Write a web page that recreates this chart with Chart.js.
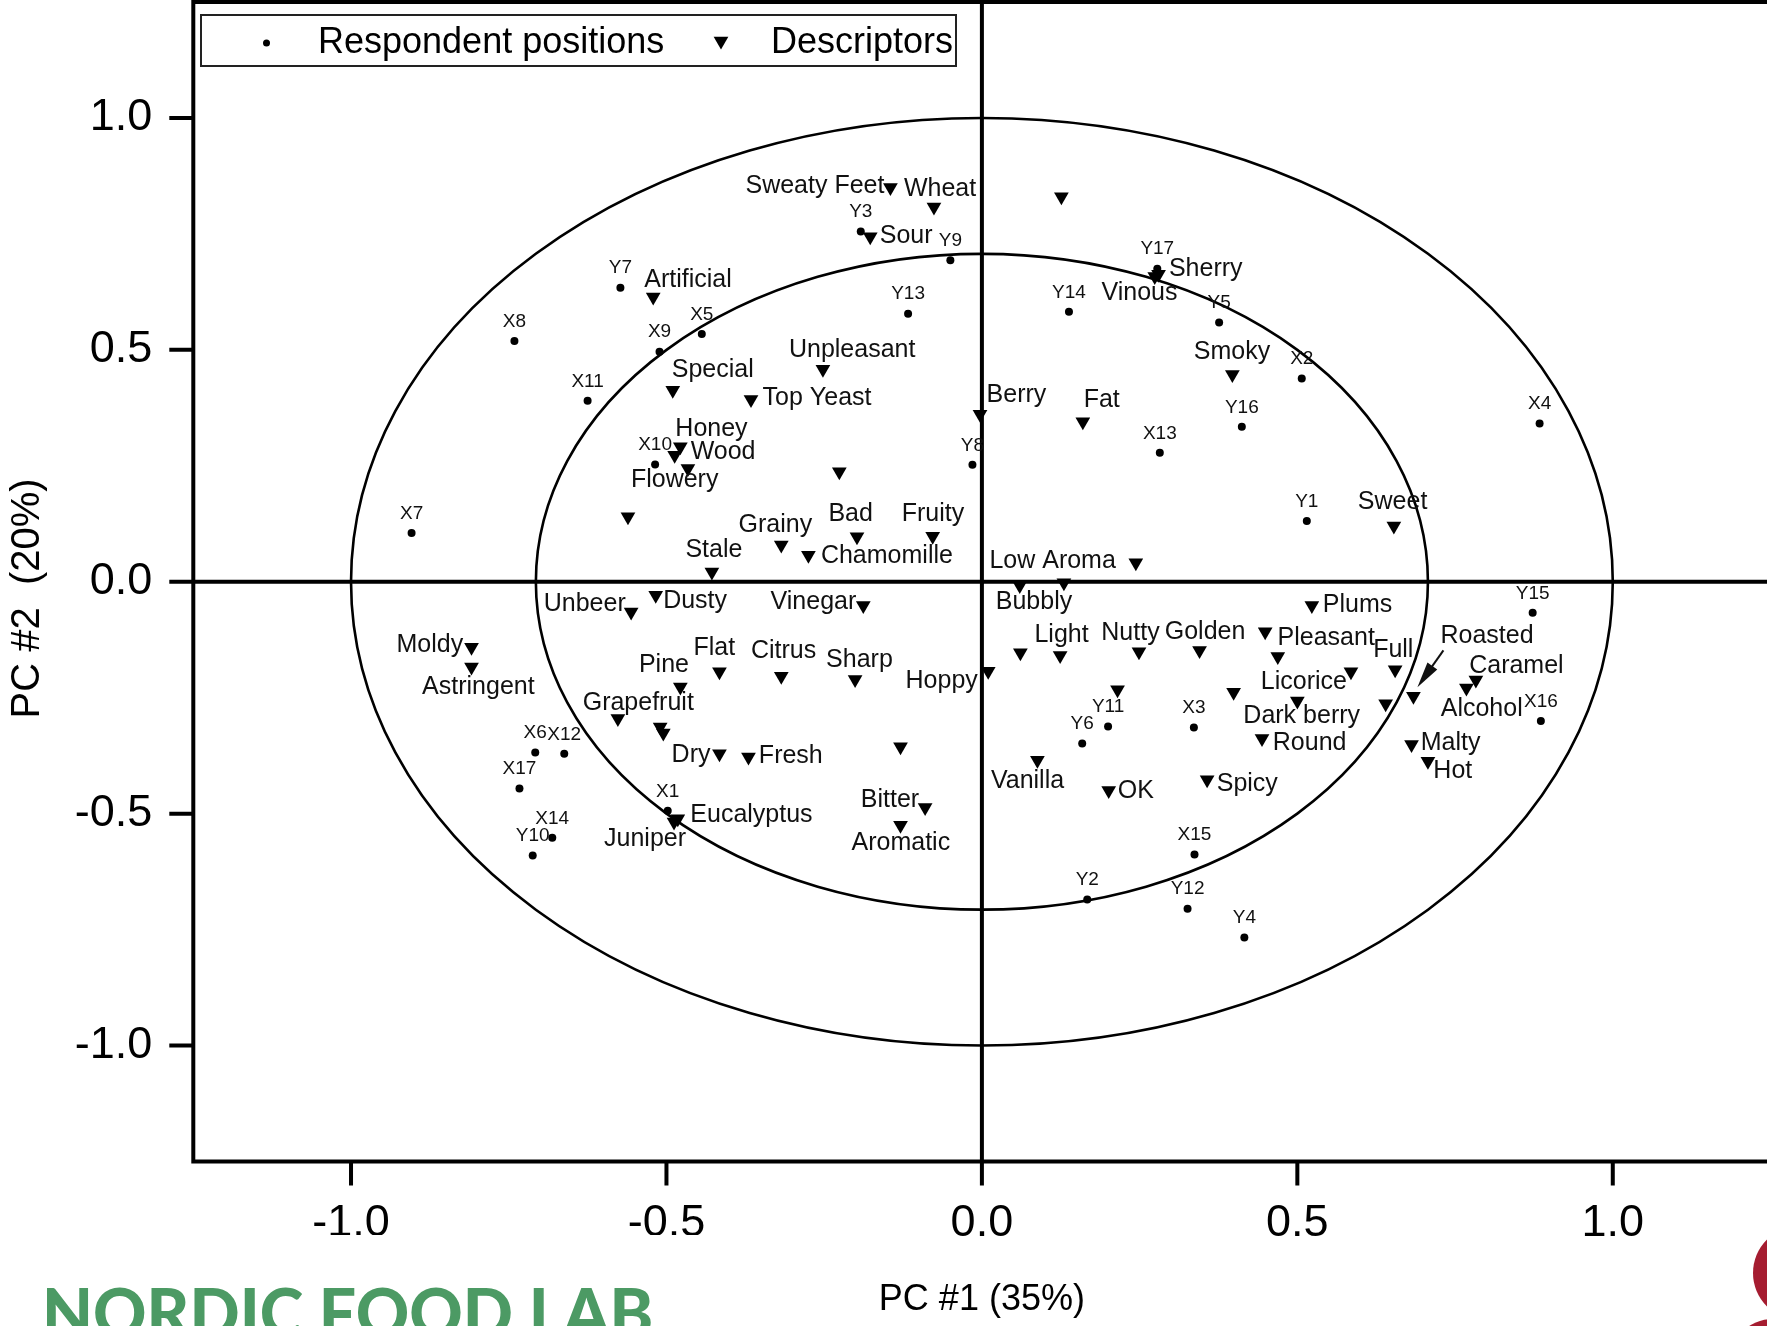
<!DOCTYPE html>
<html lang="en">
<head>
<meta charset="UTF-8" />
<title>PCA biplot</title>
<script src="https://cdn.jsdelivr.net/npm/chart.js@4"></script>
<style>
	html, body { margin: 0; padding: 0; background: #fff; overflow: hidden; width: 1767px; height: 1326px; }
	#wrap { position: absolute; left: 0; top: 0; width: 1772px; height: 1326px; }
	#brand { position: absolute; left: 0; top: 1235px; width: 700px; height: 91px; background: #fff; overflow: hidden; }
	#brand span { position: absolute; left: 42px; top: 44px; font: 900 66px Lato, sans-serif; color: #4c9a64; line-height: 1; white-space: nowrap; }
	.seal { position: absolute; border-radius: 50%; background: #a51c30; }
</style>
</head>
<body>
<div id="wrap"><canvas id="chart" width="1772" height="1326"></canvas></div>
<div id="brand"><span>NORDIC FOOD LAB</span></div>
<div class="seal" style="left:1753px;top:1226px;width:94px;height:94px"></div>
<div class="seal" style="left:1728px;top:1319px;width:90px;height:90px"></div>
<script>
	const respondentNames = ['X1', 'X2', 'X3', 'X4', 'X5', 'X6', 'X7', 'X8', 'X9', 'X10', 'X11', 'X12', 'X13', 'X14', 'X15', 'X16', 'X17',
		'Y1', 'Y2', 'Y3', 'Y4', 'Y5', 'Y6', 'Y7', 'Y8', 'Y9', 'Y10', 'Y11', 'Y12', 'Y13', 'Y14', 'Y15', 'Y16', 'Y17'];
	const respondentX = [-0.498, 0.507, 0.336, 0.884, -0.444, -0.708, -0.904, -0.741, -0.511, -0.518, -0.625, -0.662, 0.282, -0.681, 0.337, 0.886, -0.733,
		0.515, 0.167, -0.192, 0.416, 0.376, 0.159, -0.573, -0.015, -0.050, -0.712, 0.200, 0.326, -0.117, 0.138, 0.873, 0.412, 0.278];
	const respondentY = [-0.494, 0.438, -0.314, 0.341, 0.534, -0.368, 0.105, 0.519, 0.496, 0.253, 0.390, -0.371, 0.278, -0.552, -0.588, -0.300, -0.446,
		0.131, -0.685, 0.755, -0.767, 0.559, -0.349, 0.634, 0.252, 0.693, -0.590, -0.312, -0.705, 0.578, 0.582, -0.067, 0.334, 0.675];

	const descriptorNames = ['Sweaty Feet', 'Wheat', 'Sour', 'Artificial', 'Unpleasant', 'Special', 'Top Yeast', 'Honey', 'Wood', 'Flowery',
		'', '', 'Grainy', 'Bad', 'Fruity', 'Chamomille', 'Stale', 'Berry', '', 'Sherry', 'Vinous', 'Smoky', 'Fat', 'Sweet', 'Low Aroma',
		'Bubbly', '', 'Plums', '', 'Light', 'Nutty', 'Golden', 'Pleasant', '', 'Licorice', 'Full', 'Hoppy', '', '', 'Dark berry', '',
		'Roasted', 'Caramel', 'Alcohol', 'Round', 'Malty', 'Hot', 'Vanilla', 'OK', 'Spicy', 'Unbeer', 'Dusty', 'Vinegar', 'Moldy',
		'Astringent', 'Flat', 'Citrus', 'Sharp', 'Pine', 'Grapefruit', '', '', 'Dry', 'Fresh', '', 'Eucalyptus', 'Juniper', 'Bitter', 'Aromatic'];
	const descriptorX = [-0.145, -0.076, -0.177, -0.521, -0.252, -0.490, -0.366, -0.478, -0.487, -0.466,
		-0.226, -0.561, -0.318, -0.198, -0.078, -0.275, -0.428, -0.003, 0.126, 0.280, 0.274, 0.397, 0.160, 0.653, 0.244,
		0.060, 0.130, 0.523, 0.061, 0.124, 0.249, 0.345, 0.449, 0.469, 0.585, 0.655, 0.010, 0.215, 0.399, 0.500, 0.640,
		0.684, 0.783, 0.768, 0.444, 0.681, 0.707, 0.088, 0.201, 0.357, -0.556, -0.517, -0.188, -0.809,
		-0.809, -0.416, -0.318, -0.201, -0.478, -0.577, -0.510, -0.505, -0.416, -0.370, -0.129, -0.482, -0.488, -0.090, -0.129];
	const descriptorY = [0.850, 0.808, 0.744, 0.614, 0.458, 0.413, 0.393, 0.291, 0.273, 0.244,
		0.237, 0.140, 0.079, 0.097, 0.098, 0.057, 0.021, 0.361, 0.830, 0.663, 0.658, 0.447, 0.345, 0.120, 0.041,
		-0.008, -0.002, -0.051, -0.153, -0.159, -0.151, -0.148, -0.108, -0.161, -0.194, -0.190, -0.193, -0.233, -0.238, -0.257, -0.263,
		-0.247, -0.212, -0.229, -0.338, -0.351, -0.387, -0.385, -0.450, -0.427, -0.065, -0.029, -0.051, -0.141,
		-0.184, -0.194, -0.204, -0.211, -0.227, -0.295, -0.313, -0.326, -0.371, -0.378, -0.356, -0.511, -0.518, -0.487, -0.525];

	const tickValues = [-1, -0.5, 0, 0.5, 1];
	const tickLabels = ['-1.0', '-0.5', '0.0', '0.5', '1.0'];
	const circleRadii = [1.0, 0.707];

	// where each descriptor name sits next to its marker: [dx px, dy px, align]
	const descriptorLabelAt = {
		'Sweaty Feet': [-6, -1.5, 'right'], 'Wheat': [-30, -18, 'left'], 'Sour': [9.5, -1, 'left'],
		'Artificial': [-9, -17, 'left'], 'Unpleasant': [-34, -19, 'left'], 'Special': [-1, -20, 'left'],
		'Top Yeast': [11.6, -1, 'left'], 'Honey': [-5, -18, 'left'], 'Wood': [16, -3, 'left'], 'Flowery': [-57, 12, 'left'],
		'Grainy': [-42.7, -20, 'left'], 'Bad': [-28.6, -22.7, 'left'], 'Fruity': [-31, -22, 'left'],
		'Chamomille': [12.5, 1, 'left'], 'Stale': [-26.5, -21.7, 'left'], 'Berry': [6.6, -19, 'left'],
		'Sherry': [10.4, -5, 'left'], 'Vinous': [-53.3, 16.3, 'left'], 'Smoky': [-38.5, -22.3, 'left'],
		'Fat': [0.8, -21.7, 'left'], 'Sweet': [-36, -24, 'left'], 'Low Aroma': [-20, -1.3, 'right'],
		'Bubbly': [-24, 16.7, 'left'], 'Plums': [11, 0, 'left'], 'Light': [-25.7, -20.7, 'left'],
		'Nutty': [-37.7, -19, 'left'], 'Golden': [-34.8, -18.3, 'left'], 'Pleasant': [12.4, 6.6, 'left'],
		'Licorice': [-4, 10, 'right'], 'Full': [-22, -19.3, 'left'], 'Hoppy': [-10.4, 10, 'right'],
		'Dark berry': [-54, 15, 'left'], 'Roasted': [27, -60, 'left'], 'Caramel': [-6.7, -14.3, 'left'],
		'Alcohol': [-25.7, 21, 'left'], 'Round': [10.8, 4.4, 'left'], 'Malty': [9.2, -1.6, 'left'],
		'Hot': [5.4, 10, 'left'], 'Vanilla': [-46.5, 21, 'left'], 'OK': [9, 1, 'left'], 'Spicy': [9.6, 4, 'left'],
		'Unbeer': [-5.4, -7.4, 'right'], 'Dusty': [7.4, 6, 'left'], 'Vinegar': [-7, -3.3, 'right'],
		'Moldy': [-8.3, -1.7, 'right'], 'Astringent': [-49.4, 20, 'left'], 'Flat': [-26, -24, 'left'],
		'Citrus': [-30.3, -25, 'left'], 'Sharp': [-29, -20, 'left'], 'Pine': [-41.4, -21.7, 'left'],
		'Grapefruit': [-35.2, -15.6, 'left'], 'Dry': [-9, 1.7, 'right'], 'Fresh': [10.4, -0.7, 'left'],
		'Eucalyptus': [12.5, -4, 'left'], 'Juniper': [-70, 17.6, 'left'], 'Bitter': [-6, -8, 'right'],
		'Aromatic': [-49, 17.7, 'left']
	};

	const FONT = "'Liberation Sans', Arial, Helvetica, sans-serif";
	Chart.defaults.font.family = FONT;
	Chart.defaults.color = '#000';

	function tickText(v) {
		const i = tickValues.findIndex(t => Math.abs(t - v) < 1e-6);
		return i >= 0 ? tickLabels[i] : null;
	}

	function downTriangle(ctx, x, y, r) {
		const h = r * Math.sin(Math.PI / 3);
		ctx.beginPath();
		ctx.moveTo(x, y + r);
		ctx.lineTo(x - h, y - r / 2);
		ctx.lineTo(x + h, y - r / 2);
		ctx.closePath();
		ctx.fill();
	}

	// circles, zero axes, frame and tick marks
	const frameLines = {
		id: 'frameLines',
		beforeDatasetsDraw(chart) {
			const { ctx, chartArea: a, scales: { x, y } } = chart;
			const cx = x.getPixelForValue(0);
			const cy = y.getPixelForValue(0);
			ctx.save();
			ctx.strokeStyle = '#000';
			ctx.lineWidth = 2.6;
			circleRadii.forEach(r => {
				ctx.beginPath();
				ctx.ellipse(cx, cy, x.getPixelForValue(r) - cx, cy - y.getPixelForValue(r), 0, 0, Math.PI * 2);
				ctx.stroke();
			});
			ctx.lineWidth = 4;
			ctx.beginPath();
			ctx.moveTo(a.left, cy); ctx.lineTo(a.right, cy);
			ctx.moveTo(cx, a.top); ctx.lineTo(cx, a.bottom);
			ctx.stroke();
			ctx.strokeRect(a.left, a.top, a.right - a.left, a.bottom - a.top);
			ctx.beginPath();
			x.ticks.forEach(t => {
				const px = x.getPixelForValue(t.value);
				ctx.moveTo(px, a.bottom);
				ctx.lineTo(px, a.bottom + (t.label ? 24 : 12));
			});
			y.ticks.forEach(t => {
				const py = y.getPixelForValue(t.value);
				ctx.moveTo(a.left, py);
				ctx.lineTo(a.left - (t.label ? 24 : 12), py);
			});
			ctx.stroke();
			ctx.restore();
		}
	};

	// names next to the markers, the Roasted arrow and the boxed legend
	const annotations = {
		id: 'annotations',
		afterDatasetsDraw(chart) {
			const { ctx } = chart;
			ctx.save();
			ctx.fillStyle = '#111';
			ctx.textBaseline = 'middle';

			ctx.font = `19px ${FONT}`;
			ctx.textAlign = 'center';
			chart.getDatasetMeta(0).data.forEach((pt, i) => {
				ctx.fillText(respondentNames[i], pt.x, pt.y - 19.5);
			});

			ctx.font = `25px ${FONT}`;
			chart.getDatasetMeta(1).data.forEach((pt, i) => {
				const pos = descriptorLabelAt[descriptorNames[i]];
				if (!pos) return;
				ctx.textAlign = pos[2];
				ctx.fillText(descriptorNames[i], pt.x + pos[0], pt.y + pos[1]);
			});

			const roasted = chart.getDatasetMeta(1).data[descriptorNames.indexOf('Roasted')];
			const sx = roasted.x + 30, sy = roasted.y - 46;
			const tx = roasted.x + 4, ty = roasted.y - 9;
			const ang = Math.atan2(ty - sy, tx - sx);
			ctx.strokeStyle = '#111';
			ctx.lineWidth = 2;
			ctx.beginPath();
			ctx.moveTo(sx, sy);
			ctx.lineTo(tx - 20 * Math.cos(ang), ty - 20 * Math.sin(ang));
			ctx.stroke();
			ctx.beginPath();
			ctx.moveTo(tx, ty);
			ctx.lineTo(tx - 26 * Math.cos(ang) + 6 * Math.sin(ang), ty - 26 * Math.sin(ang) - 6 * Math.cos(ang));
			ctx.lineTo(tx - 26 * Math.cos(ang) - 6 * Math.sin(ang), ty - 26 * Math.sin(ang) + 6 * Math.cos(ang));
			ctx.closePath();
			ctx.fill();

			// legend box
			ctx.fillStyle = '#fff';
			ctx.fillRect(201, 15, 755, 51);
			ctx.strokeStyle = '#222';
			ctx.lineWidth = 2;
			ctx.strokeRect(201, 15, 755, 51);
			ctx.fillStyle = '#000';
			ctx.font = `36px ${FONT}`;
			ctx.textAlign = 'left';
			const sets = chart.data.datasets;
			ctx.beginPath();
			ctx.arc(266.5, 43, 3.5, 0, Math.PI * 2);
			ctx.fill();
			ctx.fillText(sets[0].label, 318, 43);
			downTriangle(ctx, 721, 41, 8.5);
			ctx.fillText(sets[1].label, 771, 43);
			ctx.restore();
		}
	};

	new Chart(document.getElementById('chart'), {
		type: 'scatter',
		data: {
			datasets: [
				{
					label: 'Respondent positions',
					data: respondentNames.map((_, i) => ({ x: respondentX[i], y: respondentY[i] })),
					pointStyle: 'circle',
					pointRadius: 4,
					backgroundColor: '#000',
					borderWidth: 0
				},
				{
					label: 'Descriptors',
					data: descriptorNames.map((_, i) => ({ x: descriptorX[i], y: descriptorY[i] })),
					pointStyle: 'triangle',
					rotation: 180,
					pointRadius: 8.5,
					backgroundColor: '#000',
					borderWidth: 0
				}
			]
		},
		options: {
			responsive: false,
			animation: false,
			events: [],
			layout: { autoPadding: false, padding: { top: 2, right: 1.5, left: 0, bottom: 0 } },
			plugins: { legend: { display: false }, tooltip: { enabled: false } },
			scales: {
				x: {
					type: 'linear',
					min: -1.25,
					max: 1.25,
					grid: { display: false, drawTicks: false },
					border: { display: false },
					ticks: { stepSize: 0.25, autoSkip: false, maxRotation: 0, minRotation: 0, padding: 35.5, font: { size: 45 }, callback: tickText },
					title: { display: true, text: 'PC #1 (35%)', font: { size: 36 }, padding: { top: 0, bottom: 4 } },
					afterFit(scale) {
						scale.height = 164.5;
						scale.paddingLeft = 0;
						scale.paddingRight = 0;
					}
				},
				y: {
					type: 'linear',
					min: -1.25,
					max: 1.25,
					grid: { display: false, drawTicks: false },
					border: { display: false },
					ticks: { stepSize: 0.25, autoSkip: false, padding: 41, font: { size: 45 }, callback: tickText },
					title: { display: true, text: 'PC #2  (20%)   ', font: { size: 40 }, padding: { top: 3.5, bottom: 0 } },
					afterFit(scale) {
						scale.width = 193.3;
						scale.paddingTop = 0;
						scale.paddingBottom = 0;
					}
				}
			}
		},
		plugins: [frameLines, annotations]
	});
</script>
</body>
</html>
